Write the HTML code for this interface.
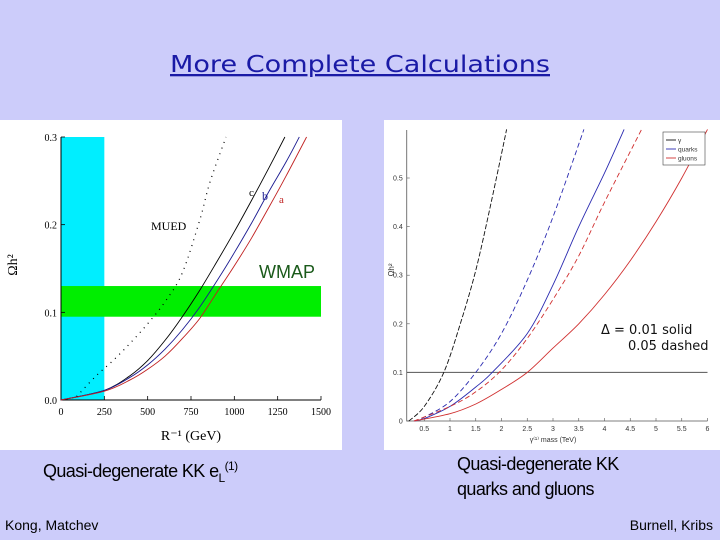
<!DOCTYPE html>
<html><head><meta charset="utf-8"><style>
html,body{margin:0;padding:0;background:#ccccfa;}
svg{display:block;font-family:"Liberation Sans","DejaVu Sans",sans-serif;}
</style></head><body>
<svg id="s" width="720" height="540" xmlns="http://www.w3.org/2000/svg">
<rect x="0" y="0" width="720" height="540" fill="#ccccfa"/>
<text x="360" y="72" text-anchor="middle" font-size="23" fill="#1a1aa6" font-family="DejaVu Sans, sans-serif" textLength="380" lengthAdjust="spacingAndGlyphs" text-decoration="underline">More Complete Calculations</text>

<g id="left">
<rect x="0" y="120" width="342" height="330" fill="#ffffff"/>
</g>
<g id="right">
<rect x="384" y="120" width="336" height="330" fill="#ffffff"/>
</g>

<text x="43" y="477" font-size="18" fill="#000" style="letter-spacing:-0.6px">Quasi-degenerate KK e<tspan font-size="12" dy="5">L</tspan><tspan font-size="12" dy="-12">(1)</tspan></text>
<text x="457" y="470" font-size="18" fill="#000" style="letter-spacing:-0.6px">Quasi-degenerate KK</text>
<text x="457" y="495" font-size="18" fill="#000" style="letter-spacing:-0.6px">quarks and gluons</text>
<text x="5" y="530" font-size="14" fill="#000">Kong, Matchev</text>
<text x="713" y="530" font-size="14" fill="#000" text-anchor="end">Burnell, Kribs</text>
</svg>
<script>
// ---------- Left chart data ----------
const lxTicks = [0,250,500,750,1000,1250,1500];
const lyTicks = [0.0,0.1,0.2,0.3];
const lxTickLabels = ["0","250","500","750","1000","1250","1500"];
const lyTickLabels = ["0.0","0.1","0.2","0.3"];
const cR = [0,250,400,500,600,700,800,900,1000,1100,1200,1292];
const cO = [0,0.011,0.028,0.045,0.068,0.095,0.125,0.158,0.192,0.228,0.265,0.3];
const bR = [0,250,400,500,600,700,800,900,1000,1100,1200,1300,1375];
const bO = [0,0.011,0.026,0.04,0.058,0.08,0.106,0.136,0.168,0.202,0.238,0.272,0.3];
const aR = [0,250,400,500,600,700,800,900,1000,1100,1200,1300,1417];
const aO = [0,0.01,0.023,0.035,0.05,0.07,0.093,0.123,0.153,0.185,0.22,0.256,0.3];
const muR = [90,200,300,400,500,600,700,800,860,952];
const muO = [0.004,0.027,0.045,0.065,0.087,0.112,0.145,0.205,0.249,0.3];
const excluded = [0,250];
const wmap = [0.095,0.13];

// ---------- Right chart data ----------
const rxTicks = [0.5,1,1.5,2,2.5,3,3.5,4,4.5,5,5.5,6];
const rxTickLabels = ["0.5","1","1.5","2","2.5","3","3.5","4","4.5","5","5.5","6"];
const ryTicks = [0,0.1,0.2,0.3,0.4,0.5];
const ryTickLabels = ["0","0.1","0.2","0.3","0.4","0.5"];
const gdM = [0.2,0.5,0.88,1.2,1.5,1.8,2.1];
const gdO = [0,0.03,0.1,0.2,0.31,0.45,0.6];
const qdM = [0.3,0.5,1,1.5,2,2.5,3,3.6];
const qdO = [0,0.008,0.04,0.1,0.18,0.29,0.42,0.6];
const qsM = [0.3,0.5,1,1.5,1.82,2.5,3,3.5,4,4.38];
const qsO = [0,0.005,0.03,0.07,0.1,0.18,0.28,0.4,0.51,0.6];
const ldM = [0.3,1,1.5,2,2.5,3,3.5,4,4.72];
const ldO = [0,0.03,0.06,0.105,0.17,0.25,0.34,0.45,0.6];
const lsM = [0.3,1,1.5,2,2.5,3,3.5,4,4.5,5,5.5,6];
const lsO = [0,0.015,0.035,0.065,0.1,0.15,0.2,0.26,0.33,0.41,0.5,0.6];
const relic = 0.1;

const NS="http://www.w3.org/2000/svg";
function mk(parent,tag,attrs,txt){const e=document.createElementNS(NS,tag);for(const k in attrs)e.setAttribute(k,attrs[k]);if(txt!==undefined)e.textContent=txt;parent.appendChild(e);return e;}

const LX=v=>61+(v/1500)*260;
const LY=v=>400-(v/0.3)*263;
const L=document.getElementById('left');
let e;
e=mk(L,'rect',{x:LX(excluded[0]),y:LY(0.3),width:LX(excluded[1])-LX(excluded[0]),height:LY(0)-LY(0.3),fill:'#00eeff'});


e=mk(L,'rect',{x:LX(0),y:LY(wmap[1]),width:LX(1500)-LX(0),height:LY(wmap[0])-LY(wmap[1]),fill:'#00ee00'});


e=mk(L,'path',{d:`M${LX(0)},${LY(0.3)}V${LY(0)}H${LX(1500)}`,fill:'none',stroke:'#000','stroke-width':1});


lxTicks.forEach((t,i)=>{
 mk(L,'line',{x1:LX(t),x2:LX(t),y1:LY(0),y2:LY(0)-4,stroke:'#000','stroke-width':0.8});
 e=mk(L,'text',{x:LX(t),y:415,'font-size':10,'text-anchor':'middle','font-family':'Liberation Serif, serif'},lxTickLabels[i]);
 
 
});
lyTicks.forEach((t,i)=>{
 mk(L,'line',{x1:LX(0),x2:LX(0)+4,y1:LY(t),y2:LY(t),stroke:'#000','stroke-width':0.8});
 e=mk(L,'text',{x:57,y:LY(t)+4,'font-size':10,'text-anchor':'end','font-family':'Liberation Serif, serif'},lyTickLabels[i]);
 
 
});
function poly(g,X,Y,xs,ys,attrs,name){
 const P=xs.map((x,i)=>[X(x),Y(ys[i])]);
 let d='M'+P[0][0].toFixed(1)+','+P[0][1].toFixed(1);
 for(let i=0;i<P.length-1;i++){
  const p0=P[i-1]||P[i],p1=P[i],p2=P[i+1],p3=P[i+2]||P[i+1];
  const c1=[p1[0]+(p2[0]-p0[0])/6,p1[1]+(p2[1]-p0[1])/6];
  const c2=[p2[0]-(p3[0]-p1[0])/6,p2[1]-(p3[1]-p1[1])/6];
  d+='C'+c1.map(v=>v.toFixed(1)).join(',')+' '+c2.map(v=>v.toFixed(1)).join(',')+' '+p2.map(v=>v.toFixed(1)).join(',');
 }
 const p=mk(g,'path',Object.assign({d:d,fill:'none'},attrs));
 
 
 return p;
}
poly(L,LX,LY,cR,cO,{stroke:'#000','stroke-width':0.9},'curve-c');
poly(L,LX,LY,bR,bO,{stroke:'#1a1a90','stroke-width':0.9},'curve-b');
poly(L,LX,LY,aR,aO,{stroke:'#c02020','stroke-width':0.9},'curve-a');
poly(L,LX,LY,muR,muO,{stroke:'#000','stroke-width':1.2,'stroke-dasharray':'1 5'},'curve-mued');
e=mk(L,'text',{x:249,y:196,'font-size':11,'font-family':'Liberation Serif, serif'},'c');


e=mk(L,'text',{x:262,y:200,'font-size':12,'fill':'#1a1a90','font-family':'Liberation Serif, serif'},'b');


e=mk(L,'text',{x:279,y:203,'font-size':11,'fill':'#c02020','font-family':'Liberation Serif, serif'},'a');


e=mk(L,'text',{x:151,y:230,'font-size':12,'font-family':'Liberation Serif, serif'},'MUED');


e=mk(L,'text',{x:259,y:278,'font-size':18,'fill':'#1a5a1a'},'WMAP');


e=mk(L,'text',{x:191,y:440,'font-size':14,'text-anchor':'middle','font-family':'Liberation Serif, serif'},'R⁻¹ (GeV)');


e=mk(L,'text',{x:0,y:0,'font-size':14,'text-anchor':'middle','font-family':'Liberation Serif, serif',transform:'translate(17,265) rotate(-90)'},'Ωh²');



const RX=v=>398.5+v*51.5;
const RY=v=>421-v*486;
const R=document.getElementById('right');
const rx0=0.16, rx1=6.0;
e=mk(R,'path',{d:`M${RX(rx0)},130V${RY(0)}H${RX(rx1)}`,fill:'none',stroke:'#555','stroke-width':0.8});


rxTicks.forEach((t,i)=>{
 mk(R,'line',{x1:RX(t),x2:RX(t),y1:RY(0),y2:RY(0)-3,stroke:'#555','stroke-width':0.6});
 e=mk(R,'text',{x:RX(t),y:431,'font-size':7,'text-anchor':'middle',fill:'#333'},rxTickLabels[i]);
 
 
});
ryTicks.forEach((t,i)=>{
 mk(R,'line',{x1:RX(rx0),x2:RX(rx0)+3,y1:RY(t),y2:RY(t),stroke:'#555','stroke-width':0.6});
 e=mk(R,'text',{x:RX(rx0)-4,y:RY(t)+2.5,'font-size':7,'text-anchor':'end',fill:'#333'},ryTickLabels[i]);
 
 
});
e=mk(R,'line',{x1:RX(rx0),x2:RX(rx1),y1:RY(relic),y2:RY(relic),stroke:'#555','stroke-width':1});


poly(R,RX,RY,gdM,gdO,{stroke:'#111','stroke-width':0.9,'stroke-dasharray':'5 2'},'photon-dashed');
poly(R,RX,RY,qdM,qdO,{stroke:'#2a2ab0','stroke-width':0.9,'stroke-dasharray':'5 3'},'quarks-dashed');
poly(R,RX,RY,qsM,qsO,{stroke:'#2a2ab0','stroke-width':0.9},'quarks-solid');
poly(R,RX,RY,ldM,ldO,{stroke:'#d03030','stroke-width':0.9,'stroke-dasharray':'5 3'},'gluons-dashed');
poly(R,RX,RY,lsM,lsO,{stroke:'#d03030','stroke-width':0.9},'gluons-solid');
const lg=mk(R,'g',{});


mk(lg,'rect',{x:663,y:132,width:42,height:33,fill:'#fff',stroke:'#444','stroke-width':0.6});
[['γ','#111'],['quarks','#2a2ab0'],['gluons','#d03030']].forEach((d,i)=>{
 const y=140+i*9;
 mk(lg,'line',{x1:666,x2:676,y1:y,y2:y,stroke:d[1],'stroke-width':0.9});
 e=mk(lg,'text',{x:678,y:y+2.5,'font-size':6.5,fill:'#333'},d[0]);
 
 
});
e=mk(R,'text',{x:601,y:334,'font-size':13,fill:'#111','font-family':'DejaVu Sans, sans-serif'},'Δ = 0.01 solid');


e=mk(R,'text',{x:628,y:350,'font-size':13,fill:'#111','font-family':'DejaVu Sans, sans-serif'},'0.05 dashed');


e=mk(R,'text',{x:RX(3),y:442,'font-size':7,'text-anchor':'middle',fill:'#333'},'γ⁽¹⁾ mass (TeV)');


e=mk(R,'text',{x:0,y:0,'font-size':8,'text-anchor':'middle',fill:'#333',transform:'translate(394,270) rotate(-90)'},'Ωh²');


</script>
</body></html>
